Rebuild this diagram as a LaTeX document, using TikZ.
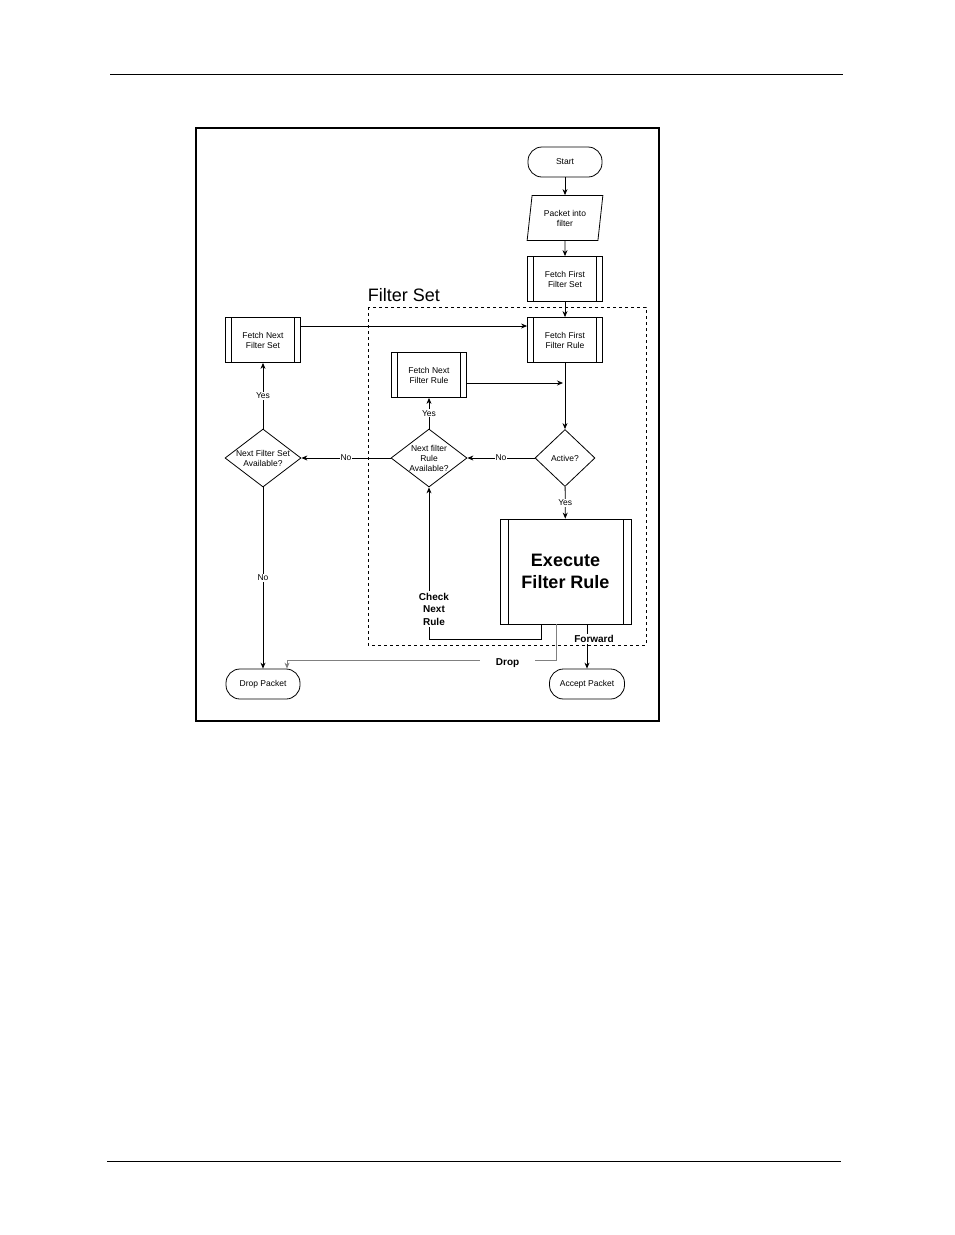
\documentclass[tikz,border=0pt]{standalone}
\usepackage{fontspec}
\setmainfont{Liberation Sans}
\newcommand{\smallfont}{\fontsize{8.5}{10}\selectfont}
\newcommand{\lblfont}{\fontsize{10}{12.5}\selectfont\bfseries}
\newcommand{\bigfont}{\fontsize{18}{22}\selectfont}
\usetikzlibrary{shapes.geometric,arrows.meta}

\begin{document}
\begin{tikzpicture}[x=1pt,y=-1pt,line width=0.8pt,
                    term/.style={draw,rounded corners=14pt,minimum width=74pt,minimum height=30pt,inner sep=0pt,font=\smallfont},
                    io/.style={draw,trapezium,trapezium left angle=79,trapezium right angle=101,trapezium stretches=true,
                               minimum width=76pt,minimum height=45pt,inner sep=0pt,align=center,font=\smallfont},
                    proc/.style={draw,minimum width=75pt,minimum height=45pt,inner sep=0pt,align=center,font=\smallfont,
                                 path picture={\draw ([xshift=6pt]path picture bounding box.north west) -- ([xshift=6pt]path picture bounding box.south west)
                                                     ([xshift=-6pt]path picture bounding box.north east) -- ([xshift=-6pt]path picture bounding box.south east);}},
                    dec/.style={draw,diamond,minimum width=76pt,minimum height=58pt,inner sep=0pt},
                    lbl/.style={fill=white,font=\smallfont,inner sep=1pt},
                    edge/.style={->,>={Stealth[length=6pt,width=5pt]}}]
  \useasboundingbox (0,0) rectangle (954,1235);
  % page rules and frame
  \draw[line width=1pt] (110,74) -- (843,74);
  \draw[line width=1pt] (107,1161) -- (841,1161);
  \draw[line width=1.5pt] (196,128) rectangle (659,721);

  % filter set group
  \draw[dashed] (368,307) rectangle (646,645);
  \node[font=\bigfont,inner sep=0pt] (fslabel) at (404,295) {Filter Set};

  \node[term] (start) at (565,162) {Start};
  \node[io] (input) at (565,218) {Packet into\\filter};
  \node[proc] (fset1) at (565,279) {Fetch First\\Filter Set};
  \node[proc] (frule1) at (565,340) {Fetch First\\Filter Rule};
  \node[proc] (fsetn) at (263,340) {Fetch Next\\Filter Set};
  \node[proc] (frulen) at (429,375) {Fetch Next\\Filter Rule};
  \coordinate (join) at (563,383);
  \node[dec,minimum width=60pt,minimum height=57pt,label={[font=\smallfont]center:Active?}] (active) at (565,458) {};
  \node[dec,label={[font=\smallfont,align=center]center:Next filter\\Rule\\Available?}] (rulenext) at (429,458) {};
  \node[dec,label={[font=\smallfont,align=center]center:Next Filter Set\\Available?}] (setnext) at (263,458) {};
  \node[proc,minimum width=131pt,minimum height=105pt,font=\bigfont\bfseries,
        path picture={\draw ([xshift=8pt]path picture bounding box.north west) -- ([xshift=8pt]path picture bounding box.south west)
                            ([xshift=-8pt]path picture bounding box.north east) -- ([xshift=-8pt]path picture bounding box.south east);}]
        (exec) at (565.5,571.5) {Execute\\Filter Rule};
  \node[term] (droppkt) at (263,684) {Drop Packet};
  \node[term,minimum width=75pt] (accept) at (587,684) {Accept Packet};

  \draw[edge] (start) -- (input);
  \draw[edge] (input) -- (fset1);
  \draw[edge] (fset1) -- (frule1);
  \draw[edge] ([yshift=14pt]fsetn.east) -- ([yshift=14pt]frule1.west);
  \draw[edge] (frule1) -- (active);
  \draw[edge] ([yshift=-8pt]frulen.east) -- (join);
  \draw[edge] (active) -- node[lbl]{No} (rulenext);
  \draw[edge] (rulenext) -- node[lbl]{No} (setnext);
  \draw[edge] (rulenext) -- node[lbl]{Yes} (frulen);
  \draw[edge] (setnext) -- node[lbl]{Yes} (fsetn);
  \draw[edge] (setnext) -- node[lbl]{No} (droppkt);
  \draw[edge] (active) -- node[lbl]{Yes} (exec);
  \draw[edge] ([xshift=-24pt]exec.south) -- ++(0,15) -| node[pos=0.6,fill=white,font=\lblfont,align=center,inner sep=2pt,xshift=5pt]{Check\\Next\\Rule} (rulenext.south);
  \draw[edge,gray] ([xshift=-9.5pt]exec.south) -- ++(0,36) -| node[pos=0.09,fill=white,font=\lblfont,inner xsep=16pt,yshift=-3pt,text=black]{Drop} ([xshift=24pt]droppkt.north);
  \draw[edge] ([xshift=21.5pt]exec.south) -- node[pos=0.33,fill=white,font=\lblfont,xshift=7pt,inner sep=1pt]{Forward} (accept);
\end{tikzpicture}
\end{document}
